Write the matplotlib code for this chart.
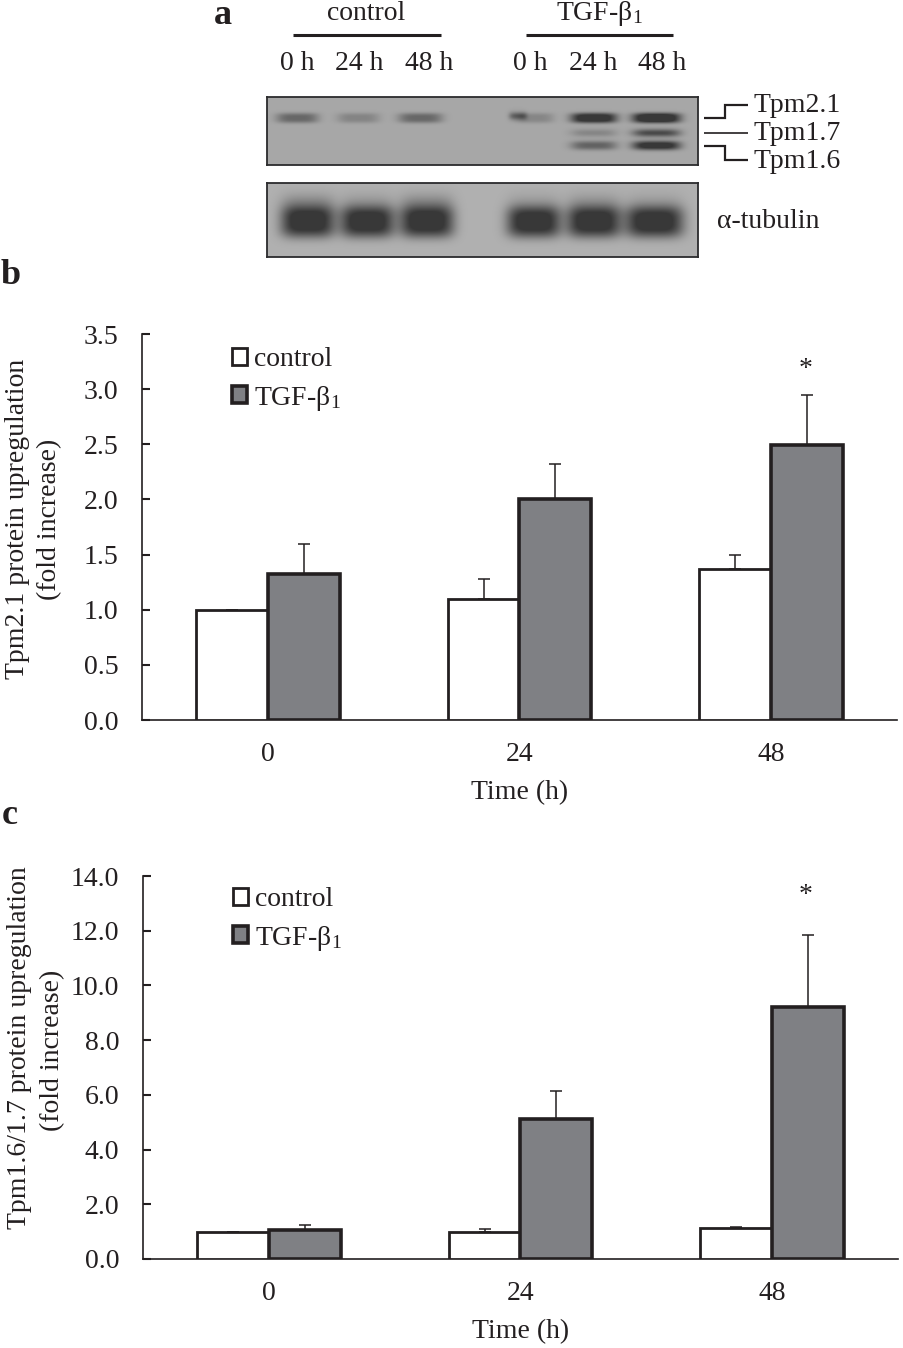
import numpy as np
import matplotlib
matplotlib.use("Agg")
import matplotlib.pyplot as plt
from matplotlib.lines import Line2D

plt.rcParams["font.family"] = ["Liberation Serif", "DejaVu Serif"]
plt.rcParams["mathtext.fontset"] = "custom"
plt.rcParams["mathtext.rm"] = "Liberation Serif"
plt.rcParams["mathtext.default"] = "rm"

W, H = 904, 1348
INK = "#231f20"
GREY = "#7f8084"
FS = 20

times = ["0", "24", "48"]
series = ["control", "TGF-β$_1$"]

# panel b
b_control = [1.0, 1.1, 1.37]
b_tgf = [1.32, 2.0, 2.49]
b_control_err = [0.0, 0.18, 0.13]
b_tgf_err = [0.28, 0.32, 0.46]
b_ticks = [0.0, 0.5, 1.0, 1.5, 2.0, 2.5, 3.0, 3.5]

# panel c
c_control = [1.0, 1.0, 1.12]
c_tgf = [1.05, 5.1, 9.2]
c_control_err = [0.0, 0.1, 0.06]
c_tgf_err = [0.2, 1.05, 2.65]
c_ticks = [0.0, 2.0, 4.0, 6.0, 8.0, 10.0, 12.0, 14.0]

# blot lanes, pixel centre and half width of each band
lane_labels = ["0 h", "24 h", "48 h", "0 h", "24 h", "48 h"]
lane_label_x = [297, 359, 429, 530, 593, 662]
top_lane_x = [297.5, 358.5, 420.5, 535, 594, 656.5]
top_lane_w = [21, 21, 22, 19, 23, 24]
tpm21 = [0.58, 0.32, 0.58, 0.30, 1.25, 1.4]
tpm21_spot = [0, 0, 0, 0.6, 0, 0]
tpm17 = [0, 0, 0, 0, 0.30, 0.85]
tpm16 = [0, 0, 0, 0, 0.62, 1.2]
tub_lane_x = [308, 367.5, 427, 534, 594, 654.5]
tub_lane_w = [27, 27, 27, 27, 27, 29]
tubulin = [1.15, 1.15, 1.15, 1.15, 1.15, 1.15]
tubulin_halo = [0.30, 0.18, 0.30, 0.15, 0.22, 0.15]


def px_axes(fig, x0, y0, x1, y1):
    return fig.add_axes([x0 / W, 1 - y1 / H, (x1 - x0) / W, (y1 - y0) / H])


def put(fig, x, y, s, **kw):
    kw.setdefault("fontsize", FS)
    kw.setdefault("color", INK)
    kw.setdefault("ha", "center")
    kw.setdefault("va", "center")
    fig.text(x / W, 1 - y / H, s, **kw)


def line(fig, xs, ys, lw=1.4):
    fig.add_artist(Line2D([x / W for x in xs], [1 - y / H for y in ys],
                          color=INK, lw=lw, solid_capstyle="butt",
                          solid_joinstyle="miter"))


def blot(fig, box, base, rows):
    x0, y0, x1, y1 = box
    xx, yy = np.meshgrid(np.arange(x0, x1) + 0.5, np.arange(y0, y1) + 0.5)
    dark = np.zeros_like(xx, dtype=float)
    for y_c, h, power, lanes_x, lanes_w, strengths in rows:
        for xc, w, s in zip(lanes_x, lanes_w, strengths):
            core = np.exp(-np.abs((xx - xc) / w) ** 4 - np.abs((yy - y_c) / h) ** power)
            dark = dark + s * core
    dark = np.clip(dark, 0, 1)
    img = base - (base - 0.22) * dark
    ax = px_axes(fig, x0, y0, x1, y1)
    ax.imshow(img, cmap="gray", vmin=0, vmax=1, aspect="auto", interpolation="bilinear")
    ax.set_xticks([])
    ax.set_yticks([])
    for sp in ax.spines.values():
        sp.set_linewidth(1.3)
        sp.set_color("#2b2b2d")


def bars(fig, box, control, tgf, control_err, tgf_err, ticks, ylab, star_y, leg_xy):
    ax = px_axes(fig, *box)
    pos = np.arange(len(times))
    width = 0.286
    ax.bar(pos - width / 2, control, width, color="white", label=series[0],
           edgecolor=INK, linewidth=2.0, zorder=3)
    ax.bar(pos + width / 2, tgf, width, color=GREY, label=series[1],
           edgecolor=INK, linewidth=2.6, zorder=3)
    err = dict(ecolor=INK, elinewidth=1.1, capsize=4.3, capthick=1.1, fmt="none", zorder=2)
    ax.errorbar(pos - width / 2, control, yerr=[[0] * 3, control_err], **err)
    ax.errorbar(pos + width / 2, tgf, yerr=[[0] * 3, tgf_err], **err)

    ax.set_xlim(-0.5, 2.5)
    ax.set_ylim(ticks[0], ticks[-1])
    ax.set_xticks(pos, times)
    ax.set_yticks(ticks, [f"{t:.1f}" for t in ticks])
    ax.tick_params(axis="x", length=0, labelsize=FS, pad=16, colors=INK)
    ax.tick_params(axis="y", direction="in", length=6, width=1.5, labelsize=FS, pad=17, colors=INK)
    for side in ("top", "right"):
        ax.spines[side].set_visible(False)
    for side in ("left", "bottom"):
        ax.spines[side].set_linewidth(1.2)
        ax.spines[side].set_color(INK)
    ax.patch.set_alpha(0)

    ax.legend(loc="upper left", bbox_to_anchor=(leg_xy[0] / W, 1 - leg_xy[1] / H),
              bbox_transform=fig.transFigure, frameon=False, fontsize=FS,
              handlelength=0.55, handleheight=0.55, handletextpad=0.25,
              labelspacing=0.42, borderpad=0, borderaxespad=0, labelcolor=INK)

    x_c = (box[0] + box[2]) / 2 + 0.5
    put(fig, x_c, box[3] + 73, "Time (h)")
    put(fig, ylab[0][0], ylab[0][1], ylab[0][2], rotation=90)
    put(fig, ylab[1][0], ylab[1][1], ylab[1][2], rotation=90)
    put(fig, 806, star_y, "*")


def main():
    fig = plt.figure(figsize=(W / 100, H / 100), dpi=100)

    put(fig, 223, 24, "a", fontsize=26, fontweight="bold", va="baseline")
    put(fig, 11, 284, "b", fontsize=26, fontweight="bold", va="baseline")
    put(fig, 10, 824, "c", fontsize=26, fontweight="bold", va="baseline")

    put(fig, 366, 13, series[0])
    put(fig, 599, 14, series[1])
    line(fig, [293, 441], [35, 35], 2.2)
    line(fig, [526, 673], [35, 35], 2.2)
    for x, lab in zip(lane_label_x, lane_labels):
        put(fig, x, 63, lab)

    blot(fig, (267, 97, 698, 165), 0.655, [
        (118, 5.0, 3, top_lane_x, top_lane_w, tpm21),
        (116, 4.0, 2, [518], [9], [tpm21_spot[3]]),
        (133, 4.0, 2, top_lane_x, top_lane_w, tpm17),
        (145.5, 4.5, 2.5, top_lane_x, top_lane_w, tpm16),
    ])
    blot(fig, (267, 183, 698, 257), 0.69, [
        (222, 15.5, 3, tub_lane_x, tub_lane_w, tubulin),
        (203, 10.0, 2, tub_lane_x, tub_lane_w, tubulin_halo),
    ])

    line(fig, [704, 725, 725, 748], [118, 118, 105, 105], 1.6)
    line(fig, [704, 748], [133, 133], 1.2)
    line(fig, [704, 725, 725, 748], [146, 146, 160, 160], 1.6)
    put(fig, 754, 106, "Tpm2.1", ha="left")
    put(fig, 754, 133, "Tpm1.7", ha="left")
    put(fig, 754, 161, "Tpm1.6", ha="left")
    put(fig, 717, 221, "α-tubulin", ha="left")

    bars(fig, (142, 334, 897, 720), b_control, b_tgf, b_control_err, b_tgf_err, b_ticks,
         [(18, 519, "Tpm2.1 protein upregulation"), (50, 519, "(fold increase)")],
         370, (232, 347))
    bars(fig, (143, 876, 898, 1259), c_control, c_tgf, c_control_err, c_tgf_err, c_ticks,
         [(20, 1048, "Tpm1.6/1.7 protein upregulation"), (53, 1050, "(fold increase)")],
         896, (233, 887))

    fig.savefig("out.png", dpi=100)


if __name__ == "__main__":
    main()
